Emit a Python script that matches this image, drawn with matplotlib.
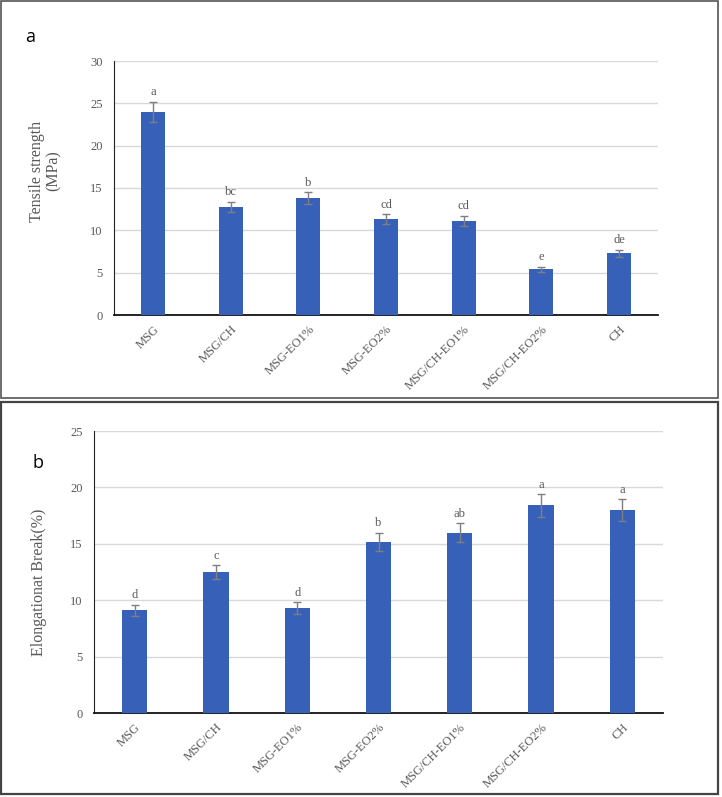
import matplotlib
matplotlib.use("Agg")
import matplotlib.pyplot as plt
from matplotlib.patches import Rectangle

groups = ["MSG", "MSG/CH", "MSG-EO1%", "MSG-EO2%", "MSG/CH-EO1%", "MSG/CH-EO2%", "CH"]

tensile = [24.0, 12.8, 13.8, 11.3, 11.1, 5.4, 7.3]
tensile_err = [1.2, 0.6, 0.7, 0.6, 0.6, 0.3, 0.4]
tensile_lbl = ["a", "bc", "b", "cd", "cd", "e", "de"]

elong = [9.1, 12.5, 9.3, 15.2, 16.0, 18.4, 18.0]
elong_err = [0.5, 0.6, 0.5, 0.8, 0.8, 1.0, 0.95]
elong_lbl = ["d", "c", "d", "b", "ab", "a", "a"]

blue = "#3761b9"
gray = "#595959"
serif = ["Liberation Serif", "DejaVu Serif"]

fig = plt.figure(figsize=(7.22, 7.97), dpi=100)

# panel frames
fig.patches.append(Rectangle((0.002, 1 - 398/797), 0.992, 397/797, transform=fig.transFigure,
                             fill=False, ec="#555555", lw=1.2))
fig.patches.append(Rectangle((0.002, 1 - 794/797), 0.993, 392/797, transform=fig.transFigure,
                             fill=False, ec="#444444", lw=1.6))


def panel(rect, vals, errs, lbls, ymax, ylabel, label_xy, letter, letter_xy):
    ax = fig.add_axes(rect)
    x = range(len(groups))
    ax.bar(x, vals, width=0.31, color=blue, zorder=3)
    ax.errorbar(x, vals, yerr=errs, fmt="none", ecolor="#7f7f7f", elinewidth=1,
                capsize=3, capthick=1, zorder=4)
    for i, (v, e, t) in enumerate(zip(vals, errs, lbls)):
        ax.annotate(t, (i, v + e), xytext=(0, 2.5), textcoords="offset points",
                    ha="center", va="bottom", fontsize=9, color=gray, family=serif)
    ax.set_xlim(-0.5, len(groups) - 0.5)
    ax.set_ylim(0, ymax)
    ax.set_yticks(range(0, ymax + 1, 5))
    ax.yaxis.grid(True, color="#d9d9d9", lw=1, zorder=0)
    ax.set_axisbelow(True)
    ax.set_xticks(list(x))
    ax.set_xticklabels(groups, rotation=45, ha="right", rotation_mode="anchor",
                       fontsize=9, color=gray, family=serif)
    for t in ax.get_yticklabels():
        t.set_family(serif)
        t.set_color(gray)
        t.set_fontsize(9)
    ax.tick_params(length=0)
    ax.tick_params(axis="y", pad=8)
    ax.tick_params(axis="x", pad=6)
    for s in ["top", "right"]:
        ax.spines[s].set_visible(False)
    ax.spines["left"].set_color("#222222")
    ax.spines["bottom"].set_color("#111111")
    ax.spines["bottom"].set_linewidth(1.3)
    ax.set_ylabel(ylabel, fontsize=11.5, color=gray, family=serif, linespacing=1.05)
    ax.yaxis.set_label_coords(*label_xy)
    fig.text(letter_xy[0], letter_xy[1], letter, fontsize=13, family="Open Sans",
             ha="center", va="center", color="black")
    return ax


panel([114/722, 1 - 315/797, 544/722, 254/797], tensile, tensile_err, tensile_lbl, 30,
      "Tensile strength\n(MPa)", (-0.097, 0.567), "a", (30/722, 1 - 37/797))
panel([94/722, 1 - 713/797, 569/722, 282/797], elong, elong_err, elong_lbl, 25,
      "Elongationat Break(%)", (-0.082, 0.4645), "b", (38/722, 1 - 463/797))

fig.savefig("out.png", dpi=100)
